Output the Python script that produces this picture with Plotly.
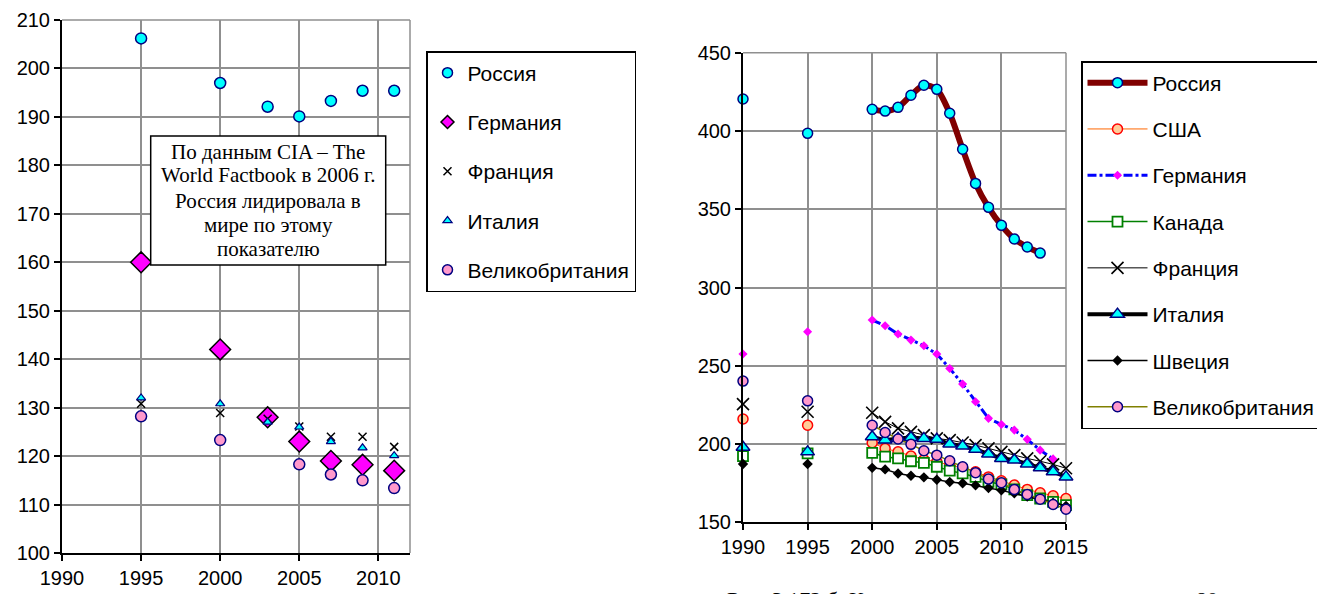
import plotly.graph_objects as go

# ---------------- Left panel data (CIA World Factbook) ----------------
left_years_ru = [1995, 2000, 2003, 2005, 2007, 2009, 2011]
left_russia = [206.2, 197.0, 192.1, 190.1, 193.3, 195.4, 195.4]
left_years = [1995, 2000, 2003, 2005, 2007, 2009, 2011]
left_germany = [160.0, 142.0, 128.0, 123.0, 119.0, 118.2, 117.0]
left_france = [130.8, 128.9, 127.7, 126.1, 124.0, 124.0, 121.9]
left_italy = [132.0, 130.8, 127.0, 126.0, 123.0, 121.7, 120.1]
left_uk_years = [1995, 2000, 2005, 2007, 2009, 2011]
left_uk = [128.2, 123.3, 118.3, 116.2, 115.0, 113.4]

# ---------------- Right panel data ----------------
years_early = [1990, 1995]
years_late = list(range(2000, 2016))
russia_years_late = list(range(2000, 2014))
germany_years_late = list(range(2000, 2015))

russia_early = [420.4, 398.5]
russia_late = [413.8, 412.7, 415.1, 422.8, 429.2, 426.6, 411.3, 388.3, 366.5,
               351.2, 339.7, 331.0, 325.9, 322.0]
usa_early = [216.0, 212.0]
usa_late = [200.8, 197.2, 195.0, 192.3, 190.0, 188.7, 186.5, 185.0, 182.3,
            179.0, 176.5, 173.8, 171.0, 168.8, 166.9, 165.2]
germany_early = [257.5, 271.7]
germany_late = [279.2, 275.6, 270.3, 266.4, 262.8, 257.5, 248.3, 238.3, 227.0,
                216.4, 212.5, 208.9, 203.0, 196.1, 190.5]
canada_early = [192.3, 194.0]
canada_late = [194.4, 191.9, 190.8, 189.0, 188.0, 185.5, 183.0, 181.2, 179.0,
               175.9, 174.2, 171.0, 167.4, 165.2, 163.1, 161.0]
france_early = [225.5, 220.6]
france_late = [220.0, 214.2, 210.0, 207.8, 205.7, 203.6, 202.5, 201.0, 199.3,
               197.2, 195.0, 192.9, 190.8, 189.0, 187.0, 184.5]
italy_early = [197.9, 195.0]
italy_late = [204.6, 202.5, 203.6, 204.2, 203.6, 203.0, 200.0, 198.7, 196.6,
              193.6, 190.8, 189.8, 187.2, 184.8, 182.3, 179.0]
sweden_early = [187.2, 187.2]
sweden_late = [184.8, 183.8, 181.2, 179.7, 178.7, 177.2, 175.7, 174.9, 173.6,
               171.9, 170.4, 168.5, 166.5, 164.5, 162.5, 160.5]
uk_early = [240.2, 227.6]
uk_late = [212.0, 207.4, 203.2, 199.8, 195.7, 192.9, 189.3, 185.5, 181.7,
           177.6, 175.3, 171.0, 167.8, 164.8, 161.4, 158.4]

left_ticks_x = [1990, 1995, 2000, 2005, 2010]
right_ticks_x = [1990, 1995, 2000, 2005, 2010, 2015]

note_lines = ["По данным CIA – The", "World Factbook в 2006 г.",
              "Россия лидировала в", "мире по этому", "показателю"]
caption_parts = ["Рис. 3.172 б. К", "80"]

SANS = "Liberation Sans, Arial, sans-serif"
SERIF = "Liberation Serif, Times New Roman, serif"
W, H = 1317, 594


def joined(ex, ey, lx, ly):
    """Early points stay unconnected; the late series is one line."""
    xs, ys = [], []
    for a, b in zip(ex, ey):
        xs += [a, None]
        ys += [b, None]
    return xs + lx, ys + ly


fig = go.Figure()

# ---------- Left panel: data traces (legend drawn by small legend-only entries) ----------
left_specs = [
    ("Россия", left_years_ru, left_russia,
     dict(symbol="circle", size=11, color="#00FFFF", line=dict(color="#000080", width=1.5)),
     dict(symbol="circle", size=10, color="#00FFFF", line=dict(color="#000080", width=1.5))),
    ("Германия", left_years, left_germany,
     dict(symbol="diamond", size=16, color="#FF00FF", line=dict(color="#000000", width=1.5)),
     dict(symbol="diamond", size=10, color="#FF00FF", line=dict(color="#000000", width=1.5))),
    ("Франция", left_years, left_france,
     dict(symbol="x-thin", size=8, color="#000000", line=dict(color="#000000", width=1.5)),
     dict(symbol="x-thin", size=8, color="#000000", line=dict(color="#000000", width=1.5))),
    ("Италия", left_years, left_italy,
     dict(symbol="triangle-up", size=8, color="#00FFFF", line=dict(color="#000080", width=1.2)),
     dict(symbol="triangle-up", size=8, color="#00FFFF", line=dict(color="#000080", width=1.2))),
    ("Великобритания", left_uk_years, left_uk,
     dict(symbol="circle", size=11, color="#FF99CC", line=dict(color="#000080", width=1.5)),
     dict(symbol="circle", size=10, color="#FF99CC", line=dict(color="#000080", width=1.5))),
]
for i, (name, xs, ys, mk, legmk) in enumerate(left_specs):
    fig.add_trace(go.Scatter(x=xs, y=ys, mode="markers", name=name, marker=mk,
                             xaxis="x", yaxis="y", showlegend=False))
for i, (name, xs, ys, mk, legmk) in enumerate(left_specs):
    fig.add_trace(go.Scatter(x=[None], y=[None], mode="markers", name=name, marker=legmk,
                             xaxis="x", yaxis="y", legend="legend",
                             legendgroup="l%d" % i, showlegend=True))

# ---------- Right panel traces ----------
rx, ry = joined(years_early, russia_early, russia_years_late, russia_late)
fig.add_trace(go.Scatter(
    x=rx, y=ry, mode="lines+markers", name="Россия",
    line=dict(color="#800000", width=6, shape="spline", smoothing=0.8),
    marker=dict(symbol="circle", size=10, color="#00FFFF",
                line=dict(color="#000080", width=1.5)),
    xaxis="x2", yaxis="y2", legend="legend2", legendgroup="r1"))
x, y = joined(years_early, usa_early, years_late, usa_late)
fig.add_trace(go.Scatter(
    x=x, y=y, mode="lines+markers", name="США",
    line=dict(color="#FF6600", width=1),
    marker=dict(symbol="circle", size=10, color="#FFCC99",
                line=dict(color="#FF0000", width=1.5)),
    xaxis="x2", yaxis="y2", legend="legend2", legendgroup="r2"))
x, y = joined(years_early, germany_early, germany_years_late, germany_late)
fig.add_trace(go.Scatter(
    x=x, y=y, mode="lines+markers", name="Германия",
    line=dict(color="#0000FF", width=3, dash="dashdot"),
    marker=dict(symbol="diamond", size=7, color="#FF00FF"),
    xaxis="x2", yaxis="y2", legend="legend2", legendgroup="r3"))
x, y = joined(years_early, canada_early, years_late, canada_late)
fig.add_trace(go.Scatter(
    x=x, y=y, mode="lines+markers", name="Канада",
    line=dict(color="#008000", width=1.5),
    marker=dict(symbol="square", size=10, color="#FFFFFF",
                line=dict(color="#008000", width=1.8)),
    xaxis="x2", yaxis="y2", legend="legend2", legendgroup="r4"))
x, y = joined(years_early, france_early, years_late, france_late)
fig.add_trace(go.Scatter(
    x=x, y=y, mode="lines+markers", name="Франция",
    line=dict(color="#000000", width=1),
    marker=dict(symbol="x-thin", size=12, color="#000000",
                line=dict(color="#000000", width=1.6)),
    xaxis="x2", yaxis="y2", legend="legend2", legendgroup="r5"))
x, y = joined(years_early, italy_early, years_late, italy_late)
fig.add_trace(go.Scatter(
    x=x, y=y, mode="lines+markers", name="Италия",
    line=dict(color="#000000", width=4),
    marker=dict(symbol="triangle-up", size=12, color="#00FFFF",
                line=dict(color="#000080", width=1.5)),
    xaxis="x2", yaxis="y2", legend="legend2", legendgroup="r6"))
x, y = joined(years_early, sweden_early, years_late, sweden_late)
fig.add_trace(go.Scatter(
    x=x, y=y, mode="lines+markers", name="Швеция",
    line=dict(color="#000000", width=1.5),
    marker=dict(symbol="diamond", size=8, color="#000000"),
    xaxis="x2", yaxis="y2", legend="legend2", legendgroup="r7"))
x, y = joined(years_early, uk_early, years_late, uk_late)
fig.add_trace(go.Scatter(
    x=x, y=y, mode="lines+markers", name="Великобритания",
    line=dict(color="#808000", width=1.5),
    marker=dict(symbol="circle", size=10, color="#FF99CC",
                line=dict(color="#000080", width=1.5)),
    xaxis="x2", yaxis="y2", legend="legend2", legendgroup="r8"))

fig.update_traces(cliponaxis=False)

GRID = "#8f8f8f"
axis_common = dict(showline=True, linecolor="#000000", linewidth=2,
                   ticks="outside", ticklen=6, tickwidth=1.5, tickcolor="#000000",
                   showgrid=True, gridcolor=GRID, gridwidth=1.5, zeroline=False,
                   automargin=False,
                   tickfont=dict(family=SANS, size=20, color="#000000"))

annotations = []
note_centers = [151.7, 175.5, 200.5, 225.3, 248.5]
for line_text, cy in zip(note_lines, note_centers):
    annotations.append(dict(
        text=line_text, xref="paper", yref="paper", x=268 / W, y=1 - cy / H,
        xanchor="center", yanchor="middle", showarrow=False,
        font=dict(family=SERIF, size=21, color="#000000")))
annotations.append(dict(
    text=caption_parts[0], xref="paper", yref="paper", x=725 / W, y=1 - 585 / H,
    xanchor="left", yanchor="top", showarrow=False,
    font=dict(family=SERIF, size=22, color="#000000")))
annotations.append(dict(
    text=caption_parts[1], xref="paper", yref="paper", x=1194 / W, y=1 - 585 / H,
    xanchor="left", yanchor="top", showarrow=False,
    font=dict(family=SERIF, size=22, color="#000000")))

fig.update_layout(
    template="none",
    width=W, height=H, margin=dict(l=0, r=0, t=0, b=0, autoexpand=False),
    paper_bgcolor="#FFFFFF", plot_bgcolor="#FFFFFF",
    xaxis=dict(domain=[62 / W, 410 / W], range=[1990, 2012], tickvals=left_ticks_x,
               anchor="y", **axis_common),
    yaxis=dict(domain=[1 - 553 / H, 1 - 20 / H], range=[100, 210], dtick=10,
               anchor="x", **axis_common),
    xaxis2=dict(domain=[743 / W, 1066 / W], range=[1990, 2015], tickvals=right_ticks_x,
                anchor="y2", **axis_common),
    yaxis2=dict(domain=[1 - 522.3 / H, 1 - 52.7 / H], range=[150, 450], dtick=50,
                anchor="x2", **axis_common),
    legend=dict(x=426 / W, y=1 - 51 / H, xanchor="left", yanchor="top",
                bgcolor="#FFFFFF", bordercolor="#000000", borderwidth=1.5,
                font=dict(family=SANS, size=21, color="#000000"),
                traceorder="grouped", tracegroupgap=19, itemwidth=30),
    legend2=dict(x=1081 / W, y=1 - 61 / H, xanchor="left", yanchor="top",
                 bgcolor="#FFFFFF", bordercolor="#000000", borderwidth=1.5,
                 font=dict(family=SANS, size=21, color="#000000"),
                 traceorder="grouped", tracegroupgap=16, itemwidth=60),
    shapes=[
        dict(type="line", xref="x domain", yref="y domain", x0=1, x1=1, y0=0, y1=1,
             line=dict(color=GRID, width=1.5), layer="below"),
        dict(type="line", xref="x domain", yref="y domain", x0=0, x1=1, y0=1, y1=1,
             line=dict(color=GRID, width=1.5), layer="below"),
        dict(type="line", xref="x2 domain", yref="y2 domain", x0=1, x1=1, y0=0, y1=1,
             line=dict(color=GRID, width=1.5), layer="below"),
        dict(type="line", xref="x2 domain", yref="y2 domain", x0=0, x1=1, y0=1, y1=1,
             line=dict(color=GRID, width=1.5), layer="below"),
        dict(type="rect", xref="paper", yref="paper",
             x0=150.7 / W, x1=385.7 / W, y0=1 - 265 / H, y1=1 - 136 / H,
             fillcolor="#FFFFFF", line=dict(color="#000000", width=1.5)),
    ],
    annotations=annotations,
    showlegend=True,
)

fig.write_html(
    "out.html",
    config={"displayModeBar": False},
    post_script="document.body.style.margin='0';document.body.style.overflow='hidden';",
)
